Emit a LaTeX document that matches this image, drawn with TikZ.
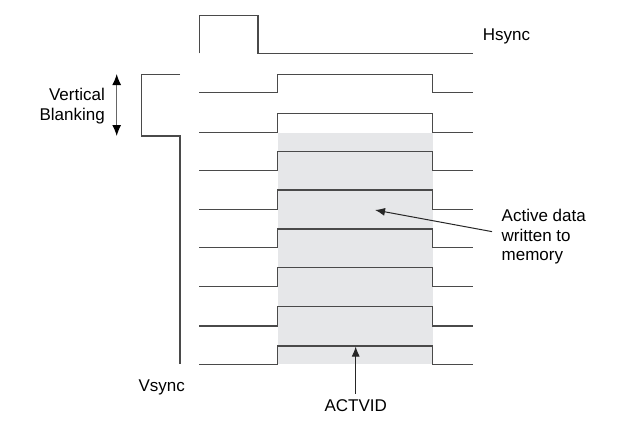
\documentclass[tikz,border=0pt]{standalone}
\usepackage{fontspec}
\setmainfont{Liberation Sans}
\usetikzlibrary{arrows.meta,backgrounds}
\definecolor{actFill}{HTML}{E6E7E9}
\definecolor{sigLine}{HTML}{4A4A4A}

\begin{document}
\begin{tikzpicture}[
  x=1pt,y=-1pt,
  font=\fontsize{17}{19.5}\selectfont,
  >={Latex[length=10pt,width=8pt]},
  sig/.style={draw=sigLine,line width=1.5pt},
  lbl/.style={inner sep=0pt,text=black},
  ptr/.style={->,draw=black!85,line width=1pt},
  dptr/.style={{Latex[length=11pt,width=9pt,color=black]}-{Latex[length=11pt,width=9pt,color=black]},
               draw=black!60,line width=1.2pt},
]
\useasboundingbox (0,0) rectangle (631,426);

% ---- active video window (shaded) ----------------------------------------
\begin{scope}[on background layer]
  \fill[actFill] (277.7,132.7) rectangle (432.7,364.3);
\end{scope}

% ---- Hsync and Vsync ------------------------------------------------------
\draw[sig] (199.3,53.3) |- (258,15.7) |- (473,53.3);
\draw[sig] (180,74.5) -| (141.7,136) -| (180,364.3);

% ---- line pulses (top -> bottom) -------------------------------------------
\draw[sig] (199.3,92.7)  -- (277.7,92.7)  |- (432.7,74.5)  |- (473,92.7);
\draw[sig] (199.3,132.7) -- (277.7,132.7) |- (432.7,113.3) |- (473,132.7);
\draw[sig] (199.3,170.7) -- (277.7,170.7) |- (432.7,151.3) |- (473,170.7);
\draw[sig] (199.3,209.3) -- (277.7,209.3) |- (432.7,190)   |- (473,209.3);
\draw[sig] (199.3,247.7) -- (277.7,247.7) |- (432.7,229)   |- (473,247.7);
\draw[sig] (199.3,286.7) -- (277.7,286.7) |- (432.7,267.7) |- (473,286.7);
\draw[sig] (199.3,326)   -- (277.7,326)   |- (432.7,306.7) |- (473,326);
\draw[sig] (199.3,364.3) -- (277.7,364.3) |- (432.7,346)   |- (473,364.3);

% ---- labels ---------------------------------------------------------------
\node[lbl,anchor=base west] (hs) at (482.7,40.5) {Hsync};
\node[lbl,anchor=base west] (vs) at (138.3,391.7) {Vsync};
\node[lbl,anchor=north east,align=right] (vb) at (105,88) {Vertical\\Blanking};
\node[lbl,anchor=north west,align=left] (adm) at (501.5,209) {Active data\\written to\\memory};
\node[anchor=base,inner sep=6pt] (act) at (355.7,411.7) {ACTVID};

% ---- pointers ---------------------------------------------------------------
\coordinate (vbTop)  at (116.7,74);
\coordinate (vbBot)  at (116.7,136);
\coordinate (admTip) at (375,210);
\coordinate (actTip) at (355.7,346.5);

\draw[dptr] (vbTop) -- (vbBot);
\draw[ptr] ([xshift=-9.5pt,yshift=5pt]adm.west) -- (admTip);
\draw[ptr] (act) -- (actTip);

\end{tikzpicture}
\end{document}
